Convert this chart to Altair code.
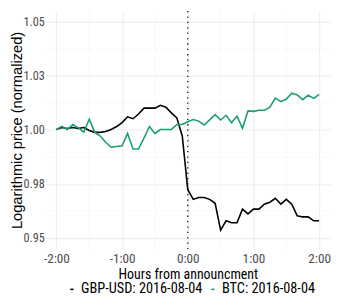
import altair as alt
import pandas as pd

# ---- data ----
minutes = list(range(-120, 125, 5))  # 5-minute sampling, -2:00 .. +2:00

gbp_usd = [1.0002, 1.0011, 1.0007, 1.0011, 1.0007, 1.0011, 0.9998, 0.9989, 0.9989, 0.9993,
           1.0002, 1.0016, 1.0034, 1.0061, 1.0052, 1.0074, 1.0101, 1.0101, 1.0101, 1.0114,
           1.0105, 1.0079, 1.0056, 0.9971, 0.9724, 0.9679, 0.9688, 0.9688, 0.9679, 0.9661,
           0.9537, 0.9580, 0.9571, 0.9571, 0.9634, 0.9612, 0.9634, 0.9634, 0.9657, 0.9666,
           0.9684, 0.9657, 0.9679, 0.9657, 0.9603, 0.9598, 0.9598, 0.9580, 0.9580]

btc = [1.0002, 1.0017, 1.0002, 1.0025, 1.0010, 0.9990, 1.0050, 0.9990, 0.9972, 0.9943,
       0.9920, 0.9924, 0.9927, 0.9984, 0.9912, 0.9912, 0.9962, 1.0016, 0.9984, 1.0002,
       1.0002, 1.0002, 1.0025, 1.0025, 1.0038, 1.0048, 1.0041, 1.0023, 1.0047, 1.0071,
       1.0046, 1.0068, 1.0034, 1.0064, 1.0008, 1.0088, 1.0086, 1.0091, 1.0091, 1.0105,
       1.0147, 1.0131, 1.0143, 1.0170, 1.0162, 1.0140, 1.0161, 1.0146, 1.0165]

series_names = ["GBP-USD: 2016-08-04", "BTC: 2016-08-04"]
series_colors = ["#000000", "#1b9e77"]

x_ticks = [-2, -1, 0, 1, 2]
x_tick_labels = ["-2:00", "-1:00", "0:00", "1:00", "2:00"]
x_minor = [-1.5, -0.5, 0.5, 1.5]
y_ticks = [0.95, 0.975, 1.0, 1.025, 1.05]
y_tick_labels = ["0.95", "0.98", "1.00", "1.03", "1.05"]
y_minor = [0.9625, 0.9875, 1.0125, 1.0375]
announcement = [0]

x_title = "Hours from announcment"
y_title = "Logarithmic price (normalized)"

# ---- build tables ----
rows = []
for name, vals in zip(series_names, [gbp_usd, btc]):
    for m, v in zip(minutes, vals):
        rows.append({"hours": m / 60.0, "price": v, "series": name})
df = pd.DataFrame(rows)


def label_expr(vals, labels):
    expr = "'" + labels[-1] + "'"
    for i in range(len(vals) - 2, -1, -1):
        mid = (vals[i] + vals[i + 1]) / 2
        expr = f"datum.value < {mid} ? '{labels[i]}' : ({expr})"
    return expr


FONT = "Roboto Condensed, Liberation Sans Narrow, Liberation Sans, Arial, sans-serif"
REG = "Liberation Sans, Arial, sans-serif"

xdom = [-2.171, 2.181]
ydom = [0.945, 1.055]
xscale = alt.Scale(domain=xdom, nice=False, zero=False)
yscale = alt.Scale(domain=ydom, nice=False, zero=False)

x_axis = alt.Axis(
    values=x_ticks,
    labelExpr=label_expr(x_ticks, x_tick_labels),
    title=x_title,
    grid=True,
    gridColor="#ebebeb",
    gridWidth=0.9,
    ticks=False,
    tickSize=0,
    domain=False,
    labelFont=FONT,
    labelFontSize=13.5,
    labelColor="#4d4d4d",
    labelBaseline="alphabetic",
    labelPadding=14,
    titleFont=FONT,
    titleFontSize=14.2,
    titleFontWeight="normal",
    titleColor="#000000",
    titleBaseline="alphabetic",
    titleX=145.7,
    titleY=30,
)

y_axis = alt.Axis(
    values=y_ticks,
    labelExpr=label_expr(y_ticks, y_tick_labels),
    title=y_title,
    grid=True,
    gridColor="#ebebeb",
    gridWidth=0.9,
    ticks=False,
    tickSize=0,
    domain=False,
    labelFont=FONT,
    labelFontSize=12.5,
    labelColor="#4d4d4d",
    labelPadding=1,
    titleFont=REG,
    titleFontSize=15,
    titleFontWeight="normal",
    titleColor="#000000",
    titleBaseline="alphabetic",
    titleX=-24.4,
    titleY=121.5,
)

X = alt.X("x:Q", scale=xscale, axis=x_axis)
Y = alt.Y("y:Q", scale=yscale, axis=y_axis)

minor_x = alt.Chart(pd.DataFrame({"x": x_minor})).mark_rule(
    color="#f3f3f3", strokeWidth=0.6
).encode(x=X)

minor_y = alt.Chart(pd.DataFrame({"y": y_minor})).mark_rule(
    color="#f3f3f3", strokeWidth=0.6
).encode(y=Y)

lines = alt.Chart(df).mark_line(strokeWidth=1.6).encode(
    x=alt.X("hours:Q", scale=xscale, axis=x_axis),
    y=alt.Y("price:Q", scale=yscale, axis=y_axis),
    color=alt.Color(
        "series:N",
        scale=alt.Scale(domain=series_names, range=series_colors),
        sort=series_names,
        legend=alt.Legend(
            orient="none",
            direction="horizontal",
            legendX=20,
            legendY=277,
            title=None,
            symbolType="stroke",
            symbolSize=12,
            symbolStrokeWidth=1.5,
            labelFont=FONT,
            labelFontSize=14.6,
            labelColor="#000000",
            labelOffset=2,
            columnPadding=3,
            padding=0,
        ),
    ),
)

vline = alt.Chart(pd.DataFrame({"x": announcement})).mark_rule(
    color="#000000", strokeWidth=1.2, strokeDash=[1.3, 4.2]
).encode(x=X)

chart = alt.layer(minor_x, minor_y, lines, vline).properties(
    width=292,
    height=243,
    autosize=alt.AutoSizeParams(type="none"),
    padding={"left": 38, "top": 0, "right": 0, "bottom": 45},
    background="white",
).configure_view(stroke=None)

chart.save("out.html", embed_options={"renderer": "svg", "actions": False})
